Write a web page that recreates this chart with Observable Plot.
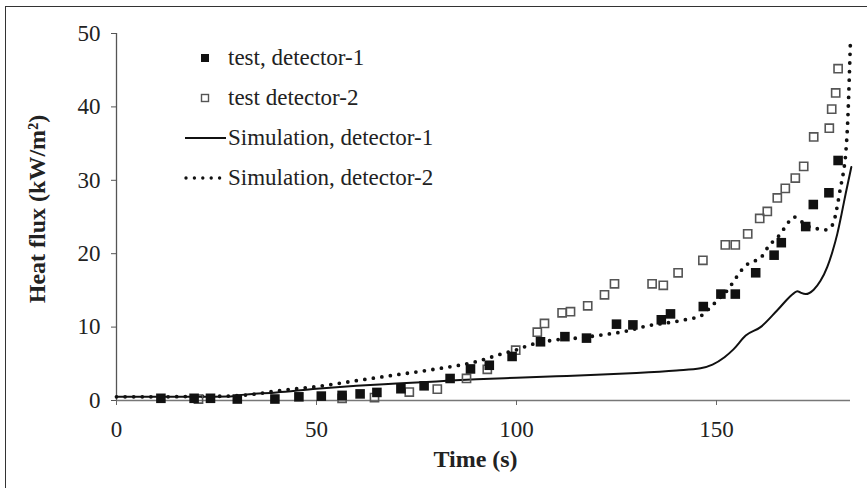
<!DOCTYPE html>
<html>
<head>
<meta charset="utf-8">
<script src="https://cdn.jsdelivr.net/npm/d3@7"></script>
<script src="https://cdn.jsdelivr.net/npm/@observablehq/plot@0.6"></script>
<style>
  html, body { margin: 0; padding: 0; background: #fff; }
  #wrap { position: relative; width: 867px; height: 488px; overflow: hidden; background: #fff; }
  .bl { position: absolute; left: 5px; top: 6px; width: 1px; height: 482px; background: #333; }
  .bt { position: absolute; left: 5px; top: 6px; width: 862px; height: 1px; background: #333; }
  #legend { position: absolute; left: 180px; top: 40px; font-family: "Liberation Serif", serif; font-size: 23px; color: #222; }
  .row { position: absolute; left: 0; height: 30px; width: 300px; }
  .row svg { position: absolute; left: 0; top: 0; }
  .row span { position: absolute; left: 48px; top: 1px; white-space: nowrap; line-height: 30px; }
</style>
</head>
<body>
<div id="wrap">
  <div class="bl"></div><div class="bt"></div>
</div>
<script>
// ---- data ----
const test1T = [11.1, 19.4, 23.5, 30.2, 39.6, 45.6, 51.2, 56.4, 60.9, 65.1, 71.1, 76.9, 83.4, 88.5, 93.2, 98.9, 106.0, 112.1, 117.5, 125.0, 129.1, 136.2, 138.5, 146.7, 151.1, 154.7, 159.8, 164.4, 166.2, 172.3, 174.2, 178.1, 180.4];
const test1V = [0.3, 0.3, 0.3, 0.2, 0.2, 0.5, 0.6, 0.7, 0.9, 1.1, 1.6, 2.0, 3.0, 4.3, 4.8, 6.0, 8.0, 8.7, 8.5, 10.4, 10.3, 11.0, 11.8, 12.8, 14.5, 14.5, 17.4, 19.8, 21.5, 23.7, 26.7, 28.3, 32.7];

const test2T = [20.5, 56.4, 64.5, 73.2, 80.2, 87.5, 92.7, 99.8, 105.2, 107.0, 111.4, 113.5, 117.8, 122.0, 124.5, 133.9, 136.7, 140.4, 146.6, 152.2, 154.7, 157.8, 160.8, 162.7, 165.2, 167.2, 169.7, 171.8, 174.3, 178.2, 178.8, 179.8, 180.4];
const test2V = [0.2, 0.3, 0.4, 1.15, 1.55, 3.0, 4.25, 6.85, 9.3, 10.5, 11.95, 12.1, 12.9, 14.4, 15.9, 15.9, 15.7, 17.4, 19.1, 21.2, 21.2, 22.7, 24.8, 25.75, 27.6, 28.9, 30.3, 31.9, 35.9, 37.1, 39.7, 41.9, 45.2];

const sim1T = [0, 10, 20, 28, 32, 40, 50, 60, 70, 80, 90, 100, 110, 120, 130, 140, 146, 149, 152, 154.3, 157.3, 161, 165.2, 169.3, 170.2, 171, 172.3, 174.3, 176, 177.7, 179, 180.2, 181.3, 182.3, 183.7];
const sim1V = [0.5, 0.5, 0.5, 0.55, 0.8, 1.1, 1.6, 2.0, 2.3, 2.6, 2.9, 3.1, 3.3, 3.5, 3.75, 4.1, 4.4, 4.9, 5.9, 7.0, 8.85, 10.0, 12.3, 14.6, 14.9, 14.7, 14.5, 15.1, 16.3, 18.2, 20.3, 22.7, 25.5, 28.2, 31.8];

const sim2T = [0, 10, 20, 28, 35, 40, 50, 60, 70, 80, 90, 96, 100, 103, 109, 115, 121, 127, 133, 138, 143, 146, 148.5, 150.5, 152.7, 155, 157.3, 159, 161, 163, 166, 168, 169.3, 170.5, 171.8, 173.5, 175.2, 177.3, 178.5, 179.3, 180.2, 181, 181.7, 182.3, 182.8, 183.2, 183.5];
const sim2V = [0.5, 0.5, 0.55, 0.6, 0.9, 1.3, 1.9, 2.7, 3.5, 4.3, 5.3, 6.3, 6.9, 7.5, 8.2, 8.5, 8.9, 9.4, 10.2, 10.6, 11.1, 11.5, 12.7, 13.8, 15.0, 16.8, 18.4, 18.9, 19.4, 21.0, 22.7, 24.3, 25.0, 24.8, 24.1, 23.6, 23.4, 23.25, 23.6, 24.3, 26.5, 29, 31, 33.6, 38, 44, 49.3];

const xTicks = [0, 50, 100, 150];
const yTicks = [0, 10, 20, 30, 40, 50];
const xLabel = "Time (s)";
const yLabel = "Heat flux (kW/m²)";
const legendLabels = ["test, detector-1", "test detector-2", "Simulation, detector-1", "Simulation, detector-2"];

const zip = (T, V) => T.map((t, i) => ({t, v: V[i]}));
const test1 = zip(test1T, test1V);
const test2 = zip(test2T, test2V);
const sim1 = zip(sim1T, sim1V);
const sim2 = zip(sim2T, sim2V);

const chart = Plot.plot({
  width: 867,
  height: 488,
  marginLeft: 116,
  marginRight: 17,
  marginTop: 33,
  marginBottom: 88,
  style: { fontFamily: "Liberation Serif, serif", fontSize: "23px", color: "#222", background: "transparent" },
  x: { domain: [0, 183.5] },
  y: { domain: [0, 50] },
  marks: [
    Plot.ruleY([0], { x1: 0, x2: 183.5, stroke: "#777", strokeWidth: 1.6 }),
    Plot.ruleX([0], { y1: 0, y2: 50, stroke: "#555", strokeWidth: 1.3 }),
    Plot.axisX({ ticks: xTicks, tickSize: 5, tickPadding: 15, stroke: "#666", fill: "#222", label: null }),
    Plot.axisY({ ticks: yTicks, tickSize: 5, tickPadding: 11, stroke: "#555", fill: "#222", label: null }),
    Plot.line(sim1, { x: "t", y: "v", stroke: "#111", strokeWidth: 2, curve: "monotone-x" }),
    Plot.line(sim2, { x: "t", y: "v", stroke: "#111", strokeWidth: 3.8, strokeDasharray: "0 8.6", strokeLinecap: "round", curve: "monotone-x" }),
    Plot.dot(test2, { x: "t", y: "v", symbol: "square", r: 4.6, stroke: "#555", strokeWidth: 1.6, fill: "white", fillOpacity: 0 }),
    Plot.dot(test1, { x: "t", y: "v", symbol: "square", r: 5.4, fill: "#111", stroke: "none" }),
    Plot.text([xLabel], { frameAnchor: "bottom", dx: -8, dy: 59, lineAnchor: "middle", fontWeight: "bold", fontSize: 24, fill: "#222" }),
    Plot.text([yLabel], { frameAnchor: "left", textAnchor: "middle", rotate: -90, dx: -79, dy: -8, lineAnchor: "middle", fontWeight: "bold", fontSize: 24, fill: "#222" })
  ]
});
const wrap = document.getElementById("wrap");
chart.style.position = "absolute";
chart.style.left = "0px";
chart.style.top = "0px";
wrap.appendChild(chart);

// legend (HTML overlay inside the plot area)
const legend = document.createElement("div");
legend.id = "legend";
const rowTops = [2, 42, 82, 122];
const symbols = [
  '<svg width="46" height="30"><rect x="21" y="12" width="8" height="8" fill="#111"/></svg>',
  '<svg width="46" height="30"><rect x="21.5" y="12.5" width="7" height="7" fill="none" stroke="#555" stroke-width="1.4"/></svg>',
  '<svg width="46" height="30"><line x1="5" y1="16" x2="46" y2="16" stroke="#111" stroke-width="2"/></svg>',
  '<svg width="46" height="30"><line x1="6" y1="16" x2="46" y2="16" stroke="#111" stroke-width="3.4" stroke-dasharray="0 8.4" stroke-linecap="round"/></svg>'
];
legendLabels.forEach((lab, i) => {
  const r = document.createElement("div");
  r.className = "row";
  r.style.top = rowTops[i] + "px";
  r.innerHTML = symbols[i] + "<span>" + lab + "</span>";
  legend.appendChild(r);
});
wrap.appendChild(legend);
</script>
</body>
</html>
